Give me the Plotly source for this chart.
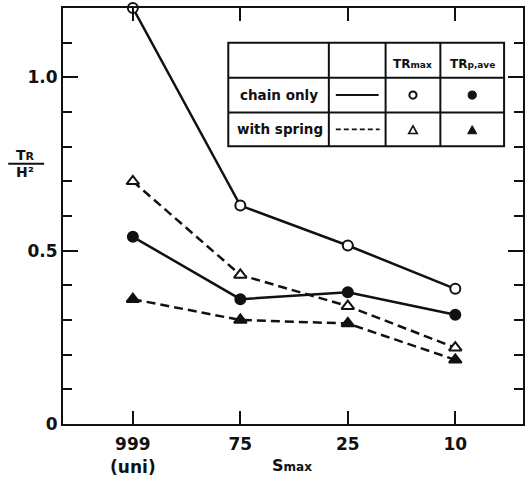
import plotly.graph_objects as go

# ---- data ----
categories = ["999<br>(uni)", "75", "25", "10"]
chain_max = [1.20, 0.63, 0.515, 0.39]     # open circles, solid
chain_ave = [0.54, 0.36, 0.38, 0.315]     # filled circles, solid
spring_max = [0.70, 0.43, 0.34, 0.22]     # open triangles, dashed
spring_ave = [0.36, 0.30, 0.29, 0.185]    # filled triangles, dashed
y_ticks = [0, 0.5, 1.0]
y_ticktext = ["0", "0.5", "1.0"]

xpos = list(range(len(categories)))

W, H = 528, 480
L, R, T, B = 63, 3, 8, 54
PW, PH = W - L - R, H - T - B
FONT = "DejaVu Sans"
BLACK = "#111111"


def px(x):
    return (x - L) / PW


def py(y):
    return (T + PH - y) / PH


fig = go.Figure()


def add_series(vals, dash, symbol, fill):
    fig.add_trace(go.Scatter(
        x=xpos, y=vals, mode="lines+markers",
        line=dict(color=BLACK, width=2.5, dash=dash),
        marker=dict(symbol=symbol, size=10 if "circle" in symbol else 11,
                    color=BLACK if fill else "white",
                    line=dict(color=BLACK, width=2)),
        cliponaxis=False, showlegend=False))


add_series(chain_max, "solid", "circle", False)
add_series(chain_ave, "solid", "circle", True)
add_series(spring_max, "9px,5px", "triangle-up", False)
add_series(spring_ave, "9px,5px", "triangle-up", True)

shapes = []
annotations = []

# ---- legend table ----
tx = [229, 330, 387, 442, 506]
ty = [43, 78, 113, 147]
shapes.append(dict(type="rect", xref="paper", yref="paper",
                   x0=px(tx[0]), x1=px(tx[-1]), y0=py(ty[0]), y1=py(ty[-1]),
                   line=dict(color=BLACK, width=2)))
for xx in tx[1:-1]:
    shapes.append(dict(type="line", xref="paper", yref="paper",
                       x0=px(xx), x1=px(xx), y0=py(ty[0]), y1=py(ty[-1]),
                       line=dict(color=BLACK, width=2)))
for yy in ty[1:-1]:
    shapes.append(dict(type="line", xref="paper", yref="paper",
                       x0=px(tx[0]), x1=px(tx[-1]), y0=py(yy), y1=py(yy),
                       line=dict(color=BLACK, width=2)))

r2 = (ty[1] + ty[2]) / 2
r3 = (ty[2] + ty[3]) / 2
shapes.append(dict(type="line", xref="paper", yref="paper",
                   x0=px(337), x1=px(380), y0=py(r2), y1=py(r2),
                   line=dict(color=BLACK, width=2)))
shapes.append(dict(type="line", xref="paper", yref="paper",
                   x0=px(337), x1=px(381), y0=py(r3), y1=py(r3),
                   line=dict(color=BLACK, width=1.8, dash="5px,3px")))

c3 = (tx[2] + tx[3]) / 2
c4 = (tx[3] + tx[4]) / 2
rr = 3.6
shapes.append(dict(type="circle", xref="paper", yref="paper",
                   x0=px(c3 - rr), x1=px(c3 + rr), y0=py(r2 - rr), y1=py(r2 + rr),
                   line=dict(color=BLACK, width=2), fillcolor="white"))
shapes.append(dict(type="circle", xref="paper", yref="paper",
                   x0=px(c4 - rr - 0.5), x1=px(c4 + rr + 0.5), y0=py(r2 - rr - 0.5), y1=py(r2 + rr + 0.5),
                   line=dict(color=BLACK, width=1), fillcolor=BLACK))


def tri_path(cx, cy, s):
    pts = [(cx, cy - s), (cx - s * 0.95, cy + s * 0.7), (cx + s * 0.95, cy + s * 0.7)]
    return "M " + " L ".join(f"{px(a):.5f},{py(b):.5f}" for a, b in pts) + " Z"


shapes.append(dict(type="path", xref="paper", yref="paper", path=tri_path(c3, r3 + 1, 4.5),
                   line=dict(color=BLACK, width=1.6), fillcolor="white"))
shapes.append(dict(type="path", xref="paper", yref="paper", path=tri_path(c4, r3 + 1, 4.8),
                   line=dict(color=BLACK, width=1), fillcolor=BLACK))

annotations += [
    dict(x=px((tx[0] + tx[1]) / 2), y=py(r2), text="chain only", font=dict(size=13.5)),
    dict(x=px((tx[0] + tx[1]) / 2 + 1), y=py(r3), text="with spring", font=dict(size=13.5)),
    dict(x=px(c3), y=py(64), text="TR<span style='font-size:9px'>max</span>", font=dict(size=12)),
    dict(x=px(c4), y=py(64), text="TR<span style='font-size:9px'>p,ave</span>", font=dict(size=12)),
]

# ---- y-axis title as a fraction ----
annotations += [
    dict(x=px(25), y=py(156), text="T<span style='font-size:11px'>R</span>", font=dict(size=14)),
    dict(x=px(25), y=py(173), text="H²", font=dict(size=14)),
]
shapes.append(dict(type="line", xref="paper", yref="paper",
                   x0=px(8), x1=px(44), y0=py(164.5), y1=py(164.5),
                   line=dict(color=BLACK, width=1.8)))

# ---- x-axis title ----
annotations.append(dict(x=px(293), y=py(468), text="S<span style='font-size:12px'>max</span>",
                        font=dict(size=16)))

for a in annotations:
    a.update(xref="paper", yref="paper", showarrow=False, xanchor="center", yanchor="middle")
    a["font"].update(family=FONT, color=BLACK, weight="bold")

fig.update_layout(
    width=W, height=H,
    margin=dict(l=L, r=R, t=T, b=B),
    paper_bgcolor="white", plot_bgcolor="white",
    font=dict(family=FONT, color=BLACK, size=17, weight="bold"),
    shapes=shapes, annotations=annotations,
    xaxis=dict(range=[-0.65, 3.63], tickmode="array", tickvals=xpos, ticktext=categories,
               ticks="inside", ticklen=13, tickwidth=2, tickcolor=BLACK,
               showline=True, linewidth=2, linecolor=BLACK, mirror="ticks",
               showgrid=False, zeroline=False, fixedrange=True, ticklabelstandoff=4,
               tickfont=dict(family=FONT, size=17, color=BLACK, weight="bold")),
    yaxis=dict(range=[0, 1.2], tickmode="array", tickvals=y_ticks, ticktext=y_ticktext,
               ticks="inside", ticklen=15, tickwidth=2, tickcolor=BLACK,
               minor=dict(dtick=0.1, tick0=0, ticks="inside", ticklen=9, tickwidth=2, tickcolor=BLACK),
               showline=True, linewidth=2, linecolor=BLACK, mirror="ticks",
               showgrid=False, zeroline=False, fixedrange=True,
               tickfont=dict(family=FONT, size=17, color=BLACK, weight="bold")),
)

fig.write_html("out.html")
